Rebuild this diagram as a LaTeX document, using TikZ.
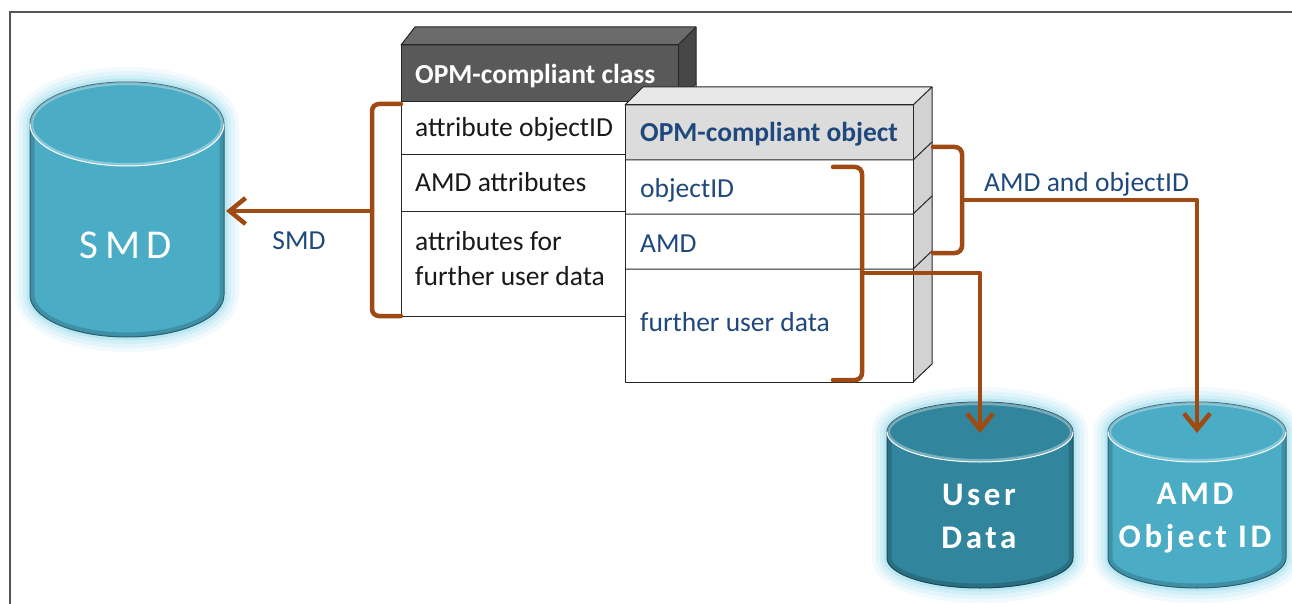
\documentclass[tikz,border=0pt]{standalone}
\usepackage{fontspec}
\setmainfont{Carlito}
\usetikzlibrary{arrows.meta}

\definecolor{brn}{HTML}{9E4A12}
\definecolor{cylA}{HTML}{4BACC6}
\definecolor{cylB}{HTML}{31859C}
\definecolor{glowc}{HTML}{6CCBE4}
\definecolor{txtblue}{HTML}{1F497D}
\definecolor{hdrdark}{HTML}{595959}
\definecolor{hdrtop}{HTML}{6B6B6B}
\definecolor{hdrside}{HTML}{474747}
\definecolor{objhdr}{HTML}{DCDCDC}
\definecolor{objtop}{HTML}{E8E8E8}
\definecolor{objside}{HTML}{D2D2D2}
\definecolor{framec}{HTML}{555555}

% database cylinder: #1 cx, #2 y of top ellipse centre, #3 x radius,
% #4 y radius, #5 y of bottom ellipse centre, #6 colour
\newcommand\dbcyl[6]{%
  \def\cylpath{({#1-#3},{-#2}) -- ({#1-#3},{-#5})
      arc[start angle=180,end angle=360,x radius=#3,y radius=#4]
      -- ({#1+#3},{-#2})
      arc[start angle=0,end angle=180,x radius=#3,y radius=#4] -- cycle}%
  \foreach \w/\o in {30/0.09,22/0.11,14/0.15,7/0.22}{%
    \draw[line width=\w pt, glowc, opacity=\o, line join=round] \cylpath;}
  \fill[#6] \cylpath;
  \begin{scope}
    \clip \cylpath;
    \draw[line width=9pt, #6!65!black, opacity=.45] \cylpath;
  \end{scope}
  \draw[#6!55!black, line width=1pt] \cylpath;
  \fill[#6] (#1,{-#2}) ellipse[x radius={#3-2}, y radius={#4-1.5}];
  \begin{scope}
    \clip (#1,{-#2}) ellipse[x radius=#3, y radius=#4];
    \draw[white, opacity=.35, line width=6pt]
      (#1,{-#2}) ellipse[x radius=#3, y radius=#4];
  \end{scope}
  \draw[white, line width=1pt] ({#1-#3},{-#2})
      arc[start angle=180,end angle=360,x radius=#3,y radius=#4];
}

\tikzset{
  boxline/.style={draw=black!85, line width=1pt, line join=round},
  clstext/.style={anchor=base west, inner sep=0pt, text=black!90,
    font=\fontsize{27.5}{35}\selectfont},
  objtext/.style={anchor=base west, inner sep=0pt, text=txtblue,
    font=\fontsize{27.5}{35}\selectfont},
  lbl/.style={inner sep=0pt, text=txtblue, font=\fontsize{27.5}{31}\selectfont},
  cyltext/.style={inner sep=0pt, text=white, align=center},
  brace/.style={draw=brn, line width=4.5pt, rounded corners=7pt, line cap=round},
  conn/.style={draw=brn, line width=4.5pt, line join=round,
    -{Straight Barb[length=16pt,width=26pt]}},
}

\begin{document}
\begin{tikzpicture}[x=1pt,y=1pt]
\useasboundingbox (0,0) rectangle (1292,-604);

% outer frame
\draw[framec, line width=2.2pt] (10,-604) -- (10,-12) -- (1292,-12);

% databases
\dbcyl{127}{124}{97}{42}{295}{cylA}
\dbcyl{980}{432}{93}{30}{558}{cylB}
\dbcyl{1197}{432}{89}{30}{558}{cylA}

\node[cyltext, font=\fontsize{41}{41}\selectfont\addfontfeature{LetterSpace=16}]
  (smd) at (126,-245) {SMD};
\node[cyltext, font=\bfseries\fontsize{33}{43}\selectfont\addfontfeature{LetterSpace=11}]
  (userdata) at (979,-516) {User\\Data};
\node[cyltext, font=\bfseries\fontsize{33}{43}\selectfont\addfontfeature{LetterSpace=11}]
  (amdoid) at (1195,-518) {AMD\\Object ID};

% class box (3D)
\fill[hdrtop] (401,-45) -- (415,-27) -- (696,-27) -- (678,-45) -- cycle;
\fill[hdrside] (678,-45) -- (696,-27) -- (696,-84) -- (678,-102) -- cycle;
\fill[black!12] (678,-102) -- (696,-84) -- (696,-298) -- (678,-316) -- cycle;
\fill[hdrdark] (401,-45) rectangle (678,-102);
\fill[white] (401,-102) rectangle (678,-316);
\draw[boxline] (401,-45) -- (415,-27) -- (696,-27) -- (678,-45) -- cycle;
\draw[boxline] (696,-27) -- (696,-298) -- (678,-316);
\draw[boxline] (678,-102) -- (696,-84);
\draw[boxline] (401,-45) rectangle (678,-316);
\draw[boxline] (401,-102) -- (678,-102);
\draw[boxline] (401,-155) -- (678,-155);
\draw[boxline] (401,-211) -- (678,-211);

% object box (3D)
\fill[objtop] (625,-105) -- (643,-87) -- (932,-87) -- (913,-105) -- cycle;
\fill[objside] (913,-105) -- (932,-87) -- (932,-364) -- (913,-382) -- cycle;
\fill[objhdr] (625,-105) rectangle (913,-160);
\fill[white] (625,-160) rectangle (913,-382);
\draw[boxline] (625,-105) -- (643,-87) -- (932,-87) -- (913,-105) -- cycle;
\draw[boxline] (932,-87) -- (932,-364) -- (913,-382);
\draw[boxline] (625,-105) rectangle (913,-382);
\foreach \yy in {160,214,269}{%
  \draw[boxline] (625,-\yy) -- (913,-\yy) -- (932,{-\yy+18});}

% class texts
\node[clstext, text=white, font=\bfseries\fontsize{27.5}{35}\selectfont]
  (clshdr) at (415,-84) {OPM-compliant class};
\node[clstext] (clsid) at (415,-137) {attribute objectID};
\node[clstext] (clsamd) at (415,-192) {AMD attributes};
\node[clstext, anchor=west, align=left] (clsusr) at (415,-259)
  {attributes for\\further user data};

% object texts
\node[objtext, font=\bfseries\fontsize{27.5}{35}\selectfont]
  (objhdr) at (640,-142) {OPM-compliant object};
\node[objtext] (objid) at (640,-197) {objectID};
\node[objtext] (objamd) at (640,-252) {AMD};
\node[objtext] (objusr) at (640,-331) {further user data};

% braces
\coordinate (cb-cusp) at (372,-211);
\coordinate (ob-cusp) at (862,-273);
\coordinate (ab-cusp) at (962,-200);
\draw[brace] (401,-104) -- (372,-104) -- (372,-316) -- (401,-316);
\draw[brace] (833,-167) -- (862,-167) -- (862,-380) -- (833,-380);
\draw[brace] (933,-147) -- (962,-147) -- (962,-253) -- (933,-253);

% connectors to the databases
\coordinate (smd-in) at (226,-211);
\coordinate (ud-in) at (980,-433);
\coordinate (ao-in) at (1197,-433);
\draw[conn] (cb-cusp) -- (smd-in);
\draw[conn] (ob-cusp) -| (ud-in);
\draw[conn] (ab-cusp) -| (ao-in);

% connector labels
\node[lbl] (smdlbl) at (299,-241) {SMD};
\node[lbl, anchor=base west] (amdlbl) at (984,-191) {AMD and objectID};

\end{tikzpicture}
\end{document}
